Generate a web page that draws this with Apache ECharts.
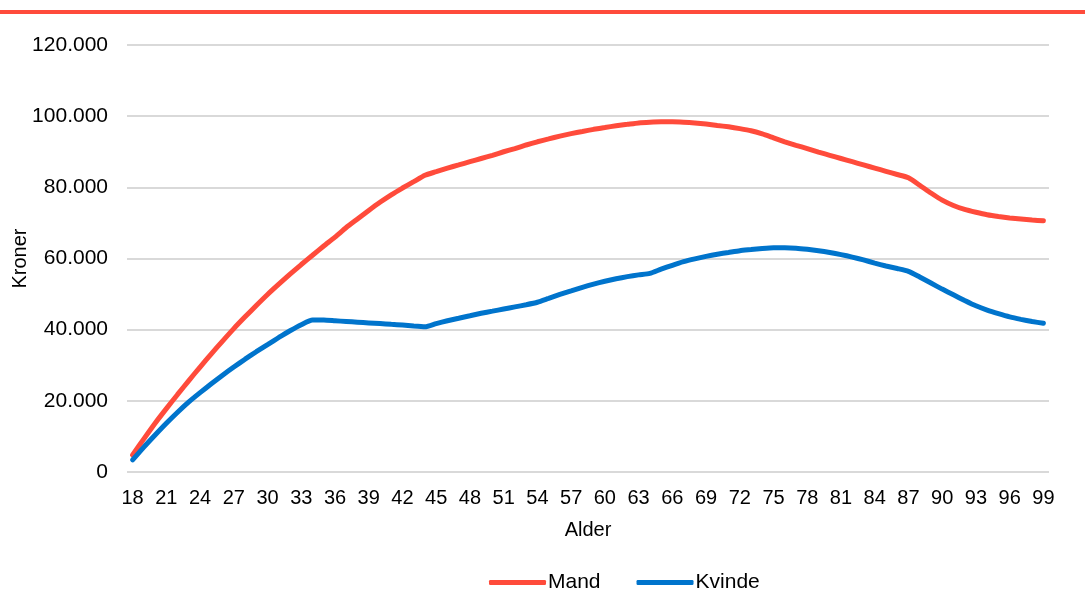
<!DOCTYPE html>
<html>
<head>
<meta charset="utf-8">
<script src="https://cdn.jsdelivr.net/npm/echarts@6/dist/echarts.min.js"></script>
<style>
html,body{margin:0;padding:0;background:#fff;}
#chart{width:1085px;height:592px;}
</style>
</head>
<body>
<div id="chart"></div>
<script>
const ages = [];
for (let a = 18; a <= 99; a++) ages.push(String(a));

const mand = [
  4800, 9300, 13700, 17800, 21800, 25700, 29500, 33200, 36800, 40300,
  43600, 46800, 49900, 52800, 55600, 58300, 60900, 63500, 66000, 68700,
  71100, 73500, 75800, 77900, 79800, 81600, 83400, 84400, 85400, 86300,
  87200, 88100, 89000, 90000, 90900, 91900, 92800, 93600, 94400, 95100,
  95700, 96300, 96800, 97300, 97700, 98100, 98300, 98400, 98400, 98300,
  98100, 97800, 97400, 97000, 96500, 95900, 95000, 93900, 92800, 91800,
  90900, 89900, 89000, 88100, 87200, 86300, 85400, 84500, 83600, 82700,
  80600, 78400, 76400, 74900, 73800, 73000, 72300, 71800, 71400, 71100,
  70800, 70600
];

const kvinde = [
  3400, 7000, 10400, 13700, 16800, 19700, 22300, 24800, 27200, 29500,
  31700, 33800, 35800, 37800, 39700, 41400, 42700, 42700, 42500, 42300,
  42100, 41900, 41700, 41500, 41300, 41000, 40800, 41700, 42500, 43200,
  43900, 44600, 45200, 45800, 46400, 47000, 47700, 48800, 49900, 50900,
  51900, 52800, 53600, 54300, 54900, 55400, 55800, 57000, 58100, 59100,
  59900, 60600, 61200, 61700, 62200, 62500, 62800, 63000, 63000, 62900,
  62600, 62200, 61700, 61100, 60400, 59600, 58700, 57900, 57200, 56400,
  54800, 53100, 51400, 49800, 48200, 46700, 45500, 44500, 43600, 42900,
  42300, 41800
];

const seriesNames = ['Mand', 'Kvinde'];
const colors = ['#FF4B3B', '#0074CC'];

const chart = echarts.init(document.getElementById('chart'), null, {renderer: 'canvas'});
const fmt = v => String(v).replace(/\B(?=(\d{3})+(?!\d))/g, '.');
const font = 'Liberation Sans, Arial, sans-serif';
const fs = 21;

chart.setOption({
  animation: false,
  textStyle: {fontFamily: font},
  graphic: [{
    type: 'rect', left: 0, top: 10,
    shape: {width: 1085, height: 4},
    style: {fill: '#FF4B3B'}
  }],
  grid: {left: 127, right: 36, top: 45, bottom: 120, containLabel: false, outerBoundsMode: 'none'},
  legend: {
    top: 567, left: 484,
    itemWidth: 57, itemHeight: 5, itemGap: 36,
    icon: 'roundRect',
    textStyle: {fontSize: fs, color: '#000', fontFamily: font, padding: [0,0,0,-3]},
    data: seriesNames
  },
  xAxis: {
    type: 'category',
    data: ages,
    boundaryGap: true,
    name: 'Alder',
    nameLocation: 'middle',
    nameGap: 48,
    nameMoveOverlap: false,
    nameTextStyle: {fontSize: 20, color: '#000', fontFamily: font},
    axisLine: {show: false},
    axisTick: {show: false},
    axisLabel: {interval: 2, fontSize: 20, color: '#000', margin: 16, fontFamily: font}
  },
  yAxis: {
    type: 'value',
    min: 0, max: 120000, interval: 20000,
    name: 'Kroner',
    nameLocation: 'middle',
    nameGap: 97,
    nameMoveOverlap: false,
    nameRotate: 90,
    nameTextStyle: {fontSize: 20, color: '#000', fontFamily: font},
    axisLine: {show: false},
    axisTick: {show: false},
    axisLabel: {formatter: fmt, fontSize: fs, color: '#000', margin: 19, fontFamily: font},
    splitLine: {lineStyle: {color: '#D9D9D9', width: 2}}
  },
  series: [
    {name: seriesNames[0], type: 'line', data: mand, showSymbol: false, symbol: 'none',
     smooth: 0.2, lineStyle: {width: 5, color: colors[0], cap: 'round'}, itemStyle: {color: colors[0]}},
    {name: seriesNames[1], type: 'line', data: kvinde, showSymbol: false, symbol: 'none',
     smooth: 0.2, lineStyle: {width: 5, color: colors[1], cap: 'round'}, itemStyle: {color: colors[1]}}
  ]
});
</script>
</body>
</html>
